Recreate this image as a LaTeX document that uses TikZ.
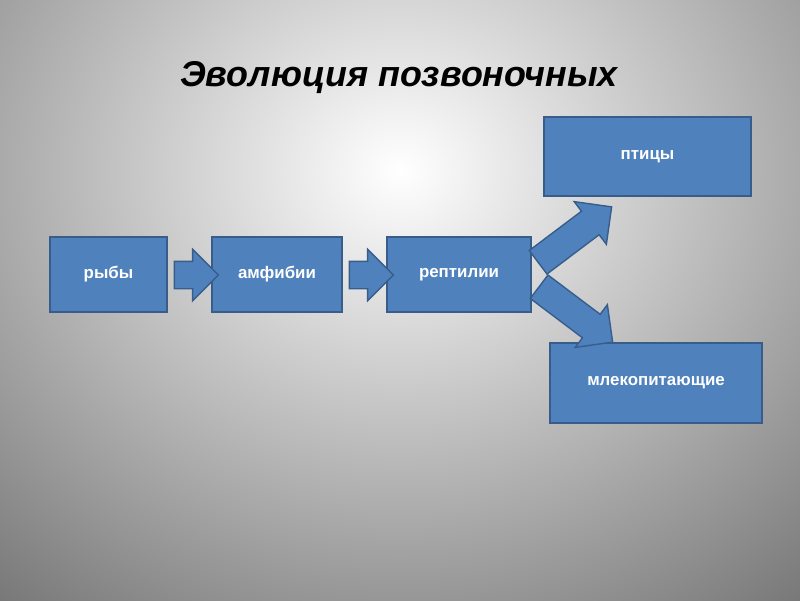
\documentclass[tikz,border=0pt]{standalone}
\usepackage{fontspec}
\setmainfont{Liberation Sans}
\usetikzlibrary{shapes.arrows}
\definecolor{boxblue}{HTML}{4F81BD}
\definecolor{boxline}{HTML}{385D8A}
\tikzset{
  taxon/.style={draw=boxline, line width=1.2pt, fill=boxblue, text=white,
    font=\bfseries\large, inner sep=0pt},
  blockarrow/.style={single arrow, draw=boxline, line width=1pt, fill=boxblue,
    minimum height=#1, minimum width=1.25cm, single arrow head extend=0.3cm,
    inner xsep=0pt, inner ysep=0.325cm}
}
\begin{document}
\begin{tikzpicture}[x=0.025cm,y=-0.025cm]
  \clip (0,0) rectangle (800,600);
  \useasboundingbox (0,0) rectangle (800,600);
  \shade[inner color=white, outer color=black!60] (-320,-460) rectangle (1120,800);
  % title
  \node[font=\bfseries\itshape\fontsize{25.5}{30}\selectfont] (title) at (399,78) {Эволюция позвоночных};
  % boxes
  \node[taxon, minimum width=2.92cm, minimum height=1.88cm] (fish) at (108.5,274.5) {рыбы};
  \node[taxon, minimum width=3.25cm, minimum height=1.88cm] (amph) at (277,274.5) {амфибии};
  \node[taxon, minimum width=3.6cm, minimum height=1.88cm] (rept) at (459,274.5) {рептилии};
  \node[taxon, minimum width=5.18cm, minimum height=1.98cm] (bird) at (647.5,156.5) {птицы};
  \node[taxon, minimum width=5.3cm, minimum height=2cm] (mamm) at (656,383) {млекопитающие};
  % arrows
  \node[blockarrow=1.1cm] (a1) at (189.5,275) {};
  \node[blockarrow=1.1cm] (a2) at (364.5,275) {};
  \node[blockarrow=2.3cm, rotate=37, inner ysep=0.35cm] (a3) at (569,239) {};
  \node[blockarrow=2.3cm, rotate=-37, inner ysep=0.35cm] (a4) at (570,310) {};
\end{tikzpicture}
\end{document}
